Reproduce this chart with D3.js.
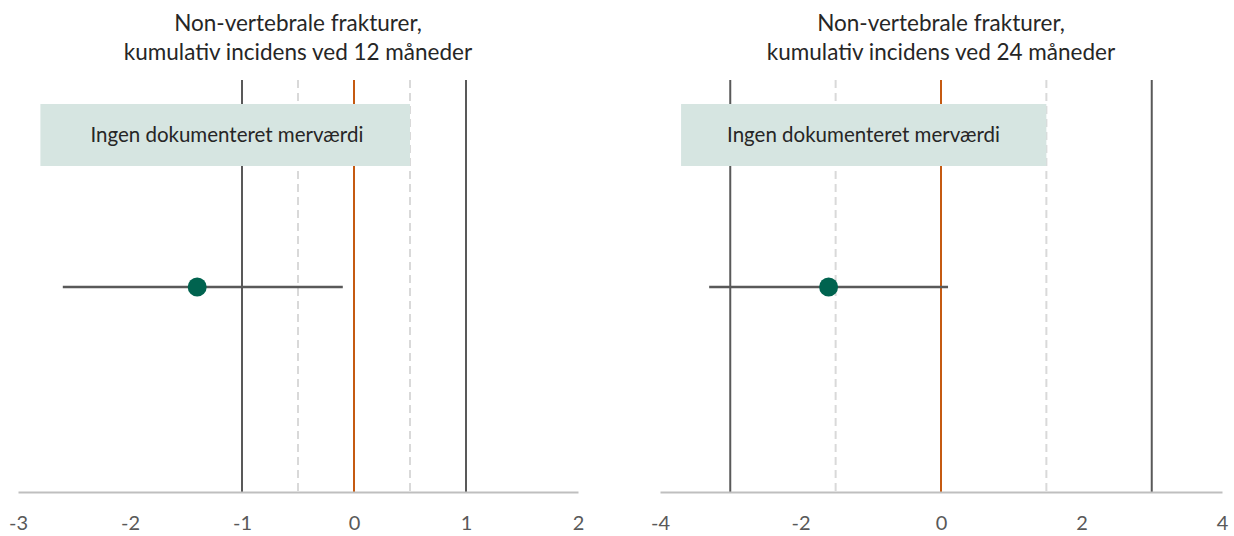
<!DOCTYPE html>
<html><head><meta charset="utf-8">
<script src="https://cdn.jsdelivr.net/npm/d3@7"></script>
<style>body{margin:0;background:#fff}svg{display:block}</style>
</head><body>
<svg id="c" width="1234" height="536"></svg>
<script>
// Data
const titles = [
  ["Non-vertebrale frakturer,", "kumulativ incidens ved 12 måneder"],
  ["Non-vertebrale frakturer,", "kumulativ incidens ved 24 måneder"]
];
const domains = [[-3, 2], [-4, 4]];
const tickValues = [[-3, -2, -1, 0, 1, 2], [-4, -2, 0, 2, 4]];
const estimates = [-1.4, -1.6];
const ciLow = [-2.6, -3.3];
const ciHigh = [-0.1, 0.1];
const solidRefs = [[-1, 1], [-3, 3]];
const dashedRefs = [[-0.5, 0.5], [-1.5, 1.5]];
const zeroRef = [0, 0];
const bandStart = [-2.8, -3.7];
const bandEnd = [0.5, 1.5];
const bandLabel = "Ingen dokumenteret merværdi";

const svg = d3.select("#c");
const font = "Lato, 'Open Sans', sans-serif";
const ranges = [[18, 578], [660, 1222]];
const yTop = 80, yAxis = 492, yPoint = 287, bandTop = 104, bandBottom = 166;

for (let i = 0; i < 2; i++) {
  const x = d3.scaleLinear().domain(domains[i]).range(ranges[i]);
  const g = svg.append("g");
  const cx = (ranges[i][0] + ranges[i][1]) / 2;

  // titles
  g.append("text").attr("x", cx).attr("y", 31).attr("text-anchor", "middle")
    .attr("font-family", font).attr("font-size", 22.5).attr("fill", "#262626").text(titles[i][0]);
  g.append("text").attr("x", cx).attr("y", 60).attr("text-anchor", "middle")
    .attr("font-family", font).attr("font-size", 22.5).attr("fill", "#262626").text(titles[i][1]);

  // dashed refs
  g.selectAll(".dash").data(dashedRefs[i]).join("line")
    .attr("x1", d => x(d)).attr("x2", d => x(d)).attr("y1", yTop).attr("y2", yAxis)
    .attr("stroke", "#D9D9D9").attr("stroke-width", 2).attr("stroke-dasharray", "8,5");
  // solid refs
  g.selectAll(".solid").data(solidRefs[i]).join("line")
    .attr("x1", d => x(d)).attr("x2", d => x(d)).attr("y1", yTop).attr("y2", yAxis)
    .attr("stroke", "#595959").attr("stroke-width", 2);
  // zero
  g.append("line").attr("x1", x(zeroRef[i])).attr("x2", x(zeroRef[i])).attr("y1", yTop).attr("y2", yAxis)
    .attr("stroke", "#C55A11").attr("stroke-width", 2);

  // band
  g.append("rect").attr("x", x(bandStart[i])).attr("y", bandTop)
    .attr("width", x(bandEnd[i]) - x(bandStart[i])).attr("height", bandBottom - bandTop)
    .attr("fill", "#D6E5E1");
  g.append("text").attr("x", x(bandStart[i]) + (i === 0 ? 50 : 46)).attr("y", 142)
    .attr("font-family", font).attr("font-size", 20.5).attr("fill", "#262626").text(bandLabel);

  // axis
  const axis = d3.axisBottom(x).tickValues(tickValues[i]).tickSize(0).tickPadding(24)
    .tickFormat(d => d < 0 ? "-" + Math.abs(d) : String(d));
  const ag = g.append("g").attr("transform", `translate(0,${yAxis})`).call(axis);
  ag.select(".domain").attr("stroke", "#BFBFBF").attr("stroke-width", 2);
  ag.selectAll("text").attr("font-family", font).attr("font-size", 20).attr("fill", "#595959");

  // CI
  g.append("line").attr("x1", x(ciLow[i])).attr("x2", x(ciHigh[i])).attr("y1", yPoint).attr("y2", yPoint)
    .attr("stroke", "#595959").attr("stroke-width", 2.5);
  g.append("circle").attr("cx", x(estimates[i])).attr("cy", yPoint).attr("r", 9.5).attr("fill", "#00634F");
}
</script>
</body></html>
